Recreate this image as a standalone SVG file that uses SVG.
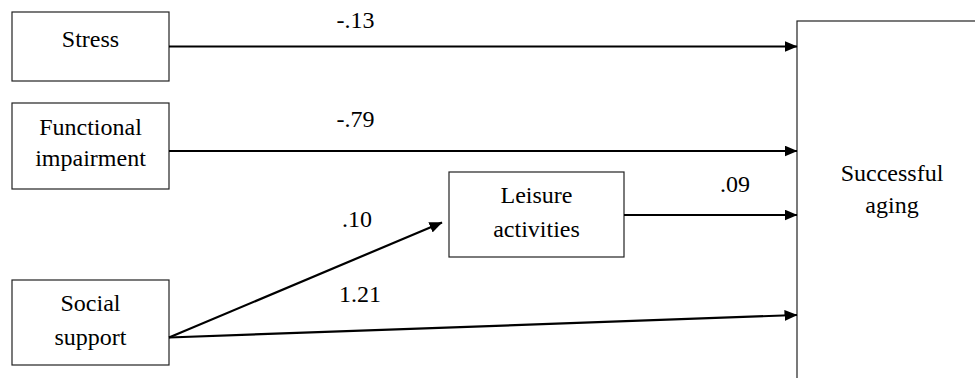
<svg xmlns="http://www.w3.org/2000/svg" width="975" height="378" viewBox="0 0 975 378">
<style>
.box{fill:#fff;stroke:#222;stroke-width:1.2}
.conn{stroke:#000;stroke-width:2.2;fill:none;marker-end:url(#ah)}
text{font-family:'Liberation Serif','Times New Roman','DejaVu Serif',serif;font-size:24px;text-anchor:middle;fill:#000}
</style>
<defs>
<marker id="ah" markerUnits="userSpaceOnUse" markerWidth="13" markerHeight="11" refX="12.5" refY="5.5" orient="auto">
<path d="M0,0 L13,5.5 L0,11 Z" fill="#000"/>
</marker>
</defs>
<rect width="975" height="378" fill="#fff"/>
<g id="successful-aging">
<rect class="box" x="797" y="21" width="200" height="380"/>
<text x="892" y="181">Successful</text>
<text x="892" y="213">aging</text>
</g>
<g id="stress">
<rect class="box" x="12" y="12" width="157" height="69"/>
<text x="90.5" y="47">Stress</text>
</g>
<g id="functional-impairment">
<rect class="box" x="12" y="103" width="157" height="86"/>
<text x="90.5" y="135">Functional</text>
<text x="90.5" y="166">impairment</text>
</g>
<g id="social-support">
<rect class="box" x="12" y="280" width="157" height="85"/>
<text x="90.5" y="311">Social</text>
<text x="90.5" y="345">support</text>
</g>
<g id="leisure-activities">
<rect class="box" x="449" y="172" width="175" height="85"/>
<text x="536.5" y="203">Leisure</text>
<text x="536.5" y="237">activities</text>
</g>
<g id="connectors">
<line class="conn" x1="169" y1="46.5" x2="797" y2="46.5"/>
<line class="conn" x1="169" y1="151" x2="797" y2="151"/>
<line class="conn" x1="624" y1="215" x2="797" y2="215"/>
<line class="conn" x1="169" y1="337.5" x2="442" y2="222.5"/>
<line class="conn" x1="169" y1="337.5" x2="797" y2="315"/>
<text x="355.5" y="28">-.13</text>
<text x="355.5" y="127">-.79</text>
<text x="735" y="192">.09</text>
<text x="357" y="227">.10</text>
<text x="360" y="302">1.21</text>
</g>
</svg>
